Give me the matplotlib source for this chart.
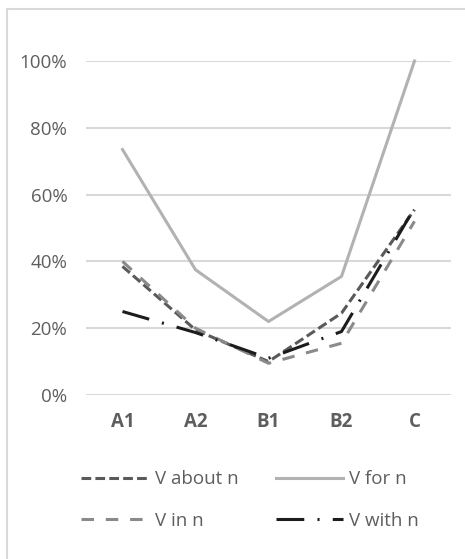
import matplotlib
matplotlib.use("Agg")
import matplotlib.pyplot as plt
from matplotlib.patches import Rectangle
from matplotlib.ticker import PercentFormatter

# data
levels = ["A1", "A2", "B1", "B2", "C"]
v_about = [0.385, 0.195, 0.10, 0.245, 0.555]
v_for = [0.735, 0.375, 0.22, 0.355, 1.00]
v_in = [0.40, 0.20, 0.095, 0.155, 0.52]
v_with = [0.25, 0.187, 0.11, 0.19, 0.56]

plt.rcParams['font.family'] = ['Open Sans', 'DejaVu Sans']
plt.rcParams['lines.scale_dashes'] = False

txt_col = "#5e5e5e"
grid_col = "#d9d9d9"
fs = 13.5

fig = plt.figure(figsize=(4.65, 5.59), dpi=100)
ax = fig.add_axes([86/465, 1 - 395/559, 365/465, 334/559])

# chart frame (cut off on right and bottom)
fig.patches.append(Rectangle((7/465, -0.1), 1.2, 1 - 9/559 + 0.1,
                             transform=fig.transFigure, fill=False,
                             edgecolor=grid_col, lw=1.5))

x = range(len(levels))
lw = 2.2
l_about, = ax.plot(x, v_about, color="#5a5a5a", lw=lw, dashes=(7, 3), label="V about n")
l_for, = ax.plot(x, v_for, color="#b2b2b2", lw=lw, label="V for n")
l_in, = ax.plot(x, v_in, color="#8a8a8a", lw=lw, dashes=(9, 8.5), label="V in n")
l_with, = ax.plot(x, v_with, color="#1c1c1c", lw=lw, dashes=(20, 9.5, 1.5, 9.5), label="V with n")

ax.set_xlim(-0.5, 4.5)
ax.set_ylim(0, 1)
ax.set_yticks([0, 0.2, 0.4, 0.6, 0.8, 1.0])
ax.yaxis.set_major_formatter(PercentFormatter(1.0, decimals=0))
ax.set_xticks(list(x))
ax.set_xticklabels(levels, fontweight="bold")
ax.grid(axis="y", color=grid_col, lw=1.5)
ax.set_axisbelow(True)
for s in ax.spines.values():
    s.set_visible(False)
ax.tick_params(axis="y", length=0, pad=13.5, labelsize=fs, labelcolor=txt_col)
ax.tick_params(axis="x", length=0, pad=12.5, labelsize=fs, labelcolor=txt_col)
for ln in ax.lines:
    ln.set_clip_on(False)

leg = fig.legend([l_about, l_in, l_for, l_with],
                 ["V about n", "V in n", "V for n", "V with n"],
                 ncol=2, loc="center", bbox_to_anchor=(250/465, 1 - 500/559),
                 frameon=False, fontsize=fs, handlelength=3.6,
                 handletextpad=0.32, columnspacing=2.0, labelspacing=1.25,
                 labelcolor=txt_col)

fig.savefig("out.png", dpi=100)
